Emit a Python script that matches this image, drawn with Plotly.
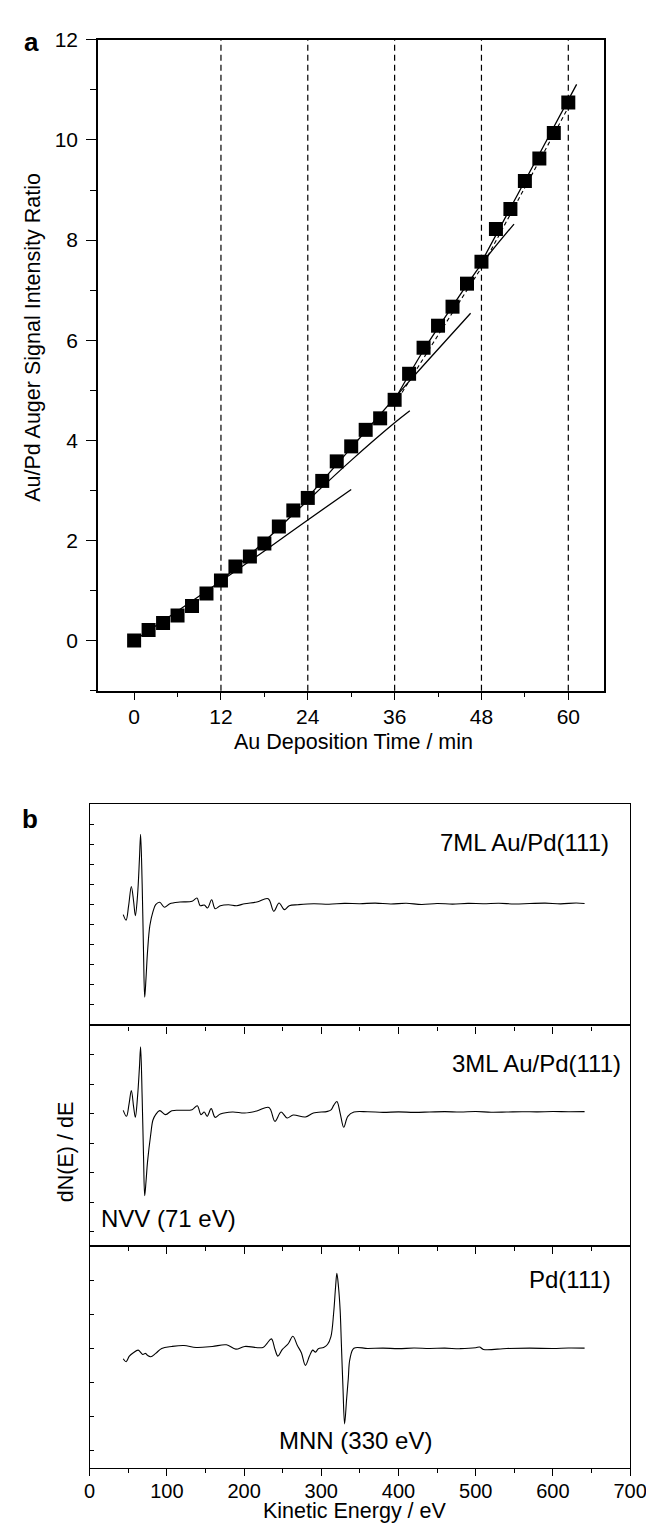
import plotly.graph_objects as go

W, H = 654, 1526

# ---------------- Panel a data ----------------
time_min = [0, 2, 4, 6, 8, 10, 12, 14, 16, 18, 20, 22, 24, 26, 28, 30,
            32, 34, 36, 38, 40, 42, 44, 46, 48, 50, 52, 54, 56, 58, 60]
ratio = [0.00, 0.21, 0.35, 0.50, 0.69, 0.94, 1.20, 1.48, 1.68, 1.94, 2.28,
         2.60, 2.85, 3.19, 3.58, 3.88, 4.21, 4.44, 4.81, 5.33, 5.85, 6.29,
         6.67, 7.13, 7.57, 8.22, 8.62, 9.18, 9.63, 10.14, 10.75]

layer_times = [12, 24, 36, 48, 60]

fit1_t = [0, 6, 12, 18, 24, 30]
fit1_r = [0.00, 0.59, 1.19, 1.79, 2.41, 3.02]
fit2_t = [12, 18, 24, 30, 36, 38.1]
fit2_r = [1.19, 1.98, 2.80, 3.60, 4.35, 4.59]
fit3_t = [24, 30, 36, 40, 46.5]
fit3_r = [2.86, 3.85, 4.85, 5.50, 6.54]
fit4_t = [36, 40, 44, 48, 52.5]
fit4_r = [4.81, 5.80, 6.68, 7.52, 8.32]
fit5_t = [48, 52, 56, 60, 61.15]
fit5_r = [7.56, 8.64, 9.72, 10.80, 11.11]
fitdash_t = [36, 42, 48, 54, 60]
fitdash_r = [4.72, 6.10, 7.45, 9.05, 10.65]

# ---------------- Panel b data (dN(E)/dE, arb. units) ----------------
energy_7ml = [43.5, 47.2, 50.5, 54.0, 57.0, 59.2, 62.0, 64.5, 66.0, 68.0, 69.8,
              71.3, 73.0, 75.0, 78.0, 82.0, 85.5, 90.7, 97.0, 103.8, 117.0,
              132.7, 139.0, 143.2, 148.5, 152.7, 158.0, 162.5, 169.3, 179.8,
              190.3, 200.8, 216.5, 231.2, 238.5, 245.3, 252.2, 258.5, 270,
              290, 310, 330, 350, 370, 390, 410, 430, 450, 470, 490, 510,
              530, 550, 570, 590, 610, 630, 641]
signal_7ml = [-11, -16.6, -2, 17.4, 2, -12, 8, 45, 70, 20, -50,
              -94.3, -75, -48, -22, -8, -1, 1.4, -3.6, 0, 1.7,
              2.4, 5.7, -2, -1.3, -4.3, 4, -5, -2, -1,
              -2, 0, 1.7, 5, -7.6, 0.7, -6, -2, -1,
              0, -0.5, 0.3, 0, 0.6, -0.3, 0.4, -0.8, 0.2, -0.4, 0.3, 0,
              0.5, -0.3, 0.2, 0.6, -0.2, 0.7, 0.2]

energy_3ml = [43.5, 47.7, 51.0, 54.0, 57.0, 59.2, 62.0, 64.5, 66.0, 68.0, 69.8,
              71.3, 73.0, 75.0, 79.1, 82.0, 85.5, 90.7, 98.5, 106.4, 120,
              132.7, 139.4, 144.2, 148.4, 152.2, 157.4, 162.5, 169.3, 185.0,
              200.8, 216.5, 232.2, 240.0, 247.9, 255.8, 263.6, 279.4, 289.8,
              308.1, 313, 316.0, 320.2, 324.4, 329.1, 334.4, 342.3, 360, 380,
              400, 420, 440, 460, 480, 500, 520, 540, 560, 580, 600, 620, 641]
signal_3ml = [1.7, -4.3, 8, 21.7, 5, -5.3, 15, 45, 65.7, 15, -45,
              -84.3, -70, -50, -22.6, -8, -2.6, 1.4, -2.6, 1.4, 1.8,
              2.4, 6.4, -2.6, 0, -4.3, 3.4, -5.3, -2, 0,
              -1, 1, 4.7, -9.3, 0, -6, -3, -5, -1,
              0.7, 2.5, 6.7, 10.7, -1, -15.3, -4.3, 0, 0.3, -0.3,
              0.2, -0.3, 0, 0.4, 0, 0.5, -0.2, 0, 0.3, 0.2, 0.5, 0.3, 0.4]

energy_pd = [43.5, 47.2, 51.4, 56.6, 62.9, 68.7, 72.4, 75.0, 79.1, 85.5, 93.3,
             106.4, 122.1, 137.9, 158.9, 177.2, 189.3, 200.8, 224.4, 229.6,
             235.4, 240.1, 243.8, 249.6, 257.4, 263.2, 269.0, 274.2, 279.4,
             284.7, 288.9, 292.5, 296.2, 303.0, 308, 312.5, 316.0, 318.5,
             320.2, 322.3, 324.4, 326.0, 328.0, 330.2, 332.8, 335, 337.0,
             342.3, 360, 380, 400, 420, 440, 460, 480, 500, 505, 510, 540,
             570, 600, 620, 641]
signal_pd = [-10.3, -13.3, -7.7, -4.3, -1.7, -6, -5, -7, -8.3, -5, 0,
             2, 3, 1, 2, 3.7, -0.7, 2, 1, 5,
             9.7, -1, -7.7, -1, 5, 12.3, 3, -4.3, -17,
             -7.7, -1.7, -3.7, -0.3, 1, 4, 12, 35.7, 62,
             75.7, 62, 39, 5, -37.7, -76, -51, -30, -11,
             0.3, 0, 0.3, -0.2, 0.4, 0, 0.3, -0.2, 0.7, 1.5, -1, 0,
             0.3, 0, 0.4, 0.3]

spectrum_labels = ["7ML Au/Pd(111)", "3ML Au/Pd(111)", "Pd(111)"]

FONT = "Liberation Sans, Arial, Helvetica, sans-serif"


def px(x):
    return x / W


def py(y):
    return 1 - y / H


fig = go.Figure()

# ---------- panel a ----------
line_style = dict(color="black", width=1.3)
for ft, fr in [(fit1_t, fit1_r), (fit2_t, fit2_r), (fit3_t, fit3_r),
               (fit4_t, fit4_r), (fit5_t, fit5_r)]:
    fig.add_trace(go.Scatter(x=ft, y=fr, mode="lines", line_shape="spline",
                             line=line_style, xaxis="x", yaxis="y",
                             hoverinfo="skip"))
fig.add_trace(go.Scatter(x=fitdash_t, y=fitdash_r, mode="lines",
                         line=dict(color="black", width=1.1, dash="4px,3px"),
                         xaxis="x", yaxis="y", hoverinfo="skip"))
fig.add_trace(go.Scatter(x=time_min, y=ratio, mode="markers",
                         marker=dict(symbol="square", size=14, color="black",
                                     line=dict(width=0)),
                         xaxis="x", yaxis="y"))

for t in layer_times:
    fig.add_shape(type="line", xref="x", yref="y domain", x0=t, x1=t,
                  y0=0, y1=1,
                  line=dict(color="black", width=1.2, dash="6px,4px"))

# ---------- panel b ----------
spectra = [(energy_7ml, signal_7ml, "x2", "y2"),
           (energy_3ml, signal_3ml, "x3", "y3"),
           (energy_pd, signal_pd, "x4", "y4")]
for e, s, xa, ya in spectra:
    fig.add_trace(go.Scatter(x=e, y=s, mode="lines", line_shape="spline",
                             line=dict(color="black", width=1.1),
                             xaxis=xa, yaxis=ya, hoverinfo="skip"))

axis_common = dict(showline=True, linecolor="black", mirror=True,
                   showgrid=False, zeroline=False, tickcolor="black",
                   ticklabeloverflow="allow")

xa_dom = [px(87), px(612)]
ya_dom = [py(676), py(20)]
xb_dom = [px(78.4), px(638.6)]
p1_dom = [py(1013.3), py(790.7)]
p2_dom = [py(1235.7), py(1013.3)]
p3_dom = [py(1459), py(1235.7)]

fig.update_layout(
    width=W, height=H,
    margin=dict(l=0, r=0, t=0, b=0),
    paper_bgcolor="white", plot_bgcolor="white",
    showlegend=False,
    font=dict(family=FONT, size=20, color="black"),
    xaxis=dict(domain=xa_dom, anchor="y", range=[-5, 65], tick0=0, dtick=12,
               ticks="outside", ticklen=8, tickwidth=1.3, linewidth=1.5,
               tickfont=dict(size=21), ticklabelstandoff=-2,
               minor=dict(dtick=6, tick0=0, ticks="outside", ticklen=5,
                          tickwidth=1.3, tickcolor="black", showgrid=False),
               **axis_common),
    yaxis=dict(domain=ya_dom, anchor="x", range=[-1, 12], tick0=0, dtick=2,
               ticks="outside", ticklen=10, tickwidth=1.3, linewidth=1.5,
               tickfont=dict(size=21), ticklabelstandoff=4,
               minor=dict(dtick=1, tick0=0, ticks="outside", ticklen=6,
                          tickwidth=1.3, tickcolor="black", showgrid=False),
               **axis_common),
)

bx_common = dict(domain=xb_dom, range=[0, 700], tick0=0, dtick=100,
                 ticks="outside", ticklen=7, tickwidth=1.2, linewidth=1.4,
                 tickfont=dict(size=20),
                 minor=dict(dtick=50, tick0=0, ticks="outside", ticklen=4,
                            tickwidth=1.2, tickcolor="black", showgrid=False),
                 **axis_common)
by_common = dict(ticks="inside", ticklen=4, tickwidth=1.2, linewidth=1.4,
                 showticklabels=False, **axis_common)

fig.update_layout(
    xaxis2=dict(anchor="y2", showticklabels=False, **bx_common),
    yaxis2=dict(domain=p1_dom, anchor="x2", range=[-122.6, 100],
                tick0=-1, dtick=20.1, **by_common),
    xaxis3=dict(anchor="y3", showticklabels=False, **bx_common),
    yaxis3=dict(domain=p2_dom, anchor="x3", range=[-135, 87.4],
                tick0=-1.6, dtick=29.7, **by_common),
    xaxis4=dict(anchor="y4", showticklabels=True, ticklabelstandoff=-2,
                **bx_common),
    yaxis4=dict(domain=p3_dom, anchor="x4", range=[-120, 103.3],
                tick0=0, dtick=34.4, **by_common),
)


def note(text, x, y, size=21.5, xanchor="center", angle=0, bold=False):
    fig.add_annotation(
        text=f"<b>{text}</b>" if bold else text,
        xref="paper", yref="paper", x=px(x), y=py(y),
        xanchor=xanchor, yanchor="middle", showarrow=False,
        textangle=angle, font=dict(family=FONT, size=size, color="black"))


note("a", 18, 22, size=26, bold=True)
note("b", 17, 805, size=26, bold=True)
note("Au/Pd Auger Signal Intensity Ratio", 20, 320, angle=-90)
note("Au Deposition Time / min", 352, 728)
note("dN(E) / dE", 54, 1141, angle=-90)
note("Kinetic Energy / eV", 353, 1503)
note(spectrum_labels[0], 619, 829, size=24, xanchor="right")
note(spectrum_labels[1], 631, 1052, size=24, xanchor="right")
note(spectrum_labels[2], 621, 1269, size=24, xanchor="right")
note("NVV (71 eV)", 88, 1208, size=24, xanchor="left")
note("MNN (330 eV)", 354, 1432, size=24)

fig.write_html("out.html")
